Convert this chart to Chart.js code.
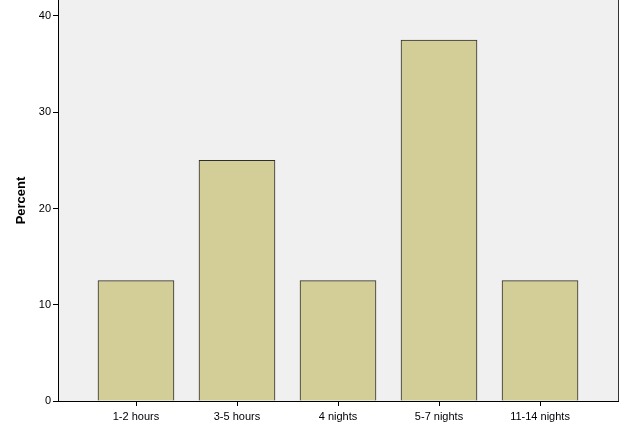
<!DOCTYPE html>
<html><head><meta charset="utf-8">
<script src="https://cdn.jsdelivr.net/npm/chart.js@4/dist/chart.umd.min.js"></script>
<style>html,body{margin:0;padding:0;background:#fff}#wrap{width:625px;height:427px}</style>
</head><body><div id="wrap"><canvas id="c" width="625" height="427"></canvas></div>
<script>
const categories = ['1-2 hours','3-5 hours','4 nights','5-7 nights','11-14 nights'];
const percentValues = [12.5, 25, 12.5, 37.5, 12.5];
const yTickValues = [0, 10, 20, 30, 40];

const plotBg = {
  id: 'plotBg',
  beforeDraw(chart) {
    const {ctx, chartArea: a} = chart;
    ctx.save();
    ctx.fillStyle = '#F0F0F0';
    ctx.fillRect(a.left, a.top, a.right - a.left, a.bottom - a.top);
    ctx.restore();
  },
  afterDraw(chart) {
    const {ctx, chartArea: a} = chart;
    const xs = chart.scales.x;
    ctx.save();
    ctx.strokeStyle = '#333';
    ctx.lineWidth = 1;
    ctx.beginPath();
    ctx.moveTo(a.right + 0.5, a.top);
    ctx.lineTo(a.right + 0.5, a.bottom);
    ctx.stroke();
    ctx.strokeStyle = '#000';
    ctx.beginPath();
    xs.ticks.forEach(t => {
      const px = Math.round(xs.getPixelForValue(t.value)) + 0.5;
      ctx.moveTo(px, a.bottom);
      ctx.lineTo(px, a.bottom + 5);
    });
    ctx.stroke();
    ctx.restore();
  }
};

new Chart(document.getElementById('c'), {
  type: 'bar',
  data: {
    datasets: [{
      data: percentValues.map((v, i) => ({x: i, y: v})),
      backgroundColor: '#D3CE97',
      borderColor: '#2e2e2e',
      borderWidth: 1,
      barThickness: 76
    }]
  },
  options: {
    responsive: false,
    animation: false,
    layout: {padding: {left: 0, right: 7, top: 0, bottom: 0}},
    plugins: {legend: {display: false}, tooltip: {enabled: false}},
    scales: {
      x: {
        type: 'linear',
        min: -0.772, max: 4.772,
        offset: false,
        afterBuildTicks: s => { s.ticks = categories.map((c, i) => ({value: i})); },
        afterFit: s => { s.height = 26; s.paddingLeft = 0; s.paddingRight = 0; },
        ticks: {
          callback: v => categories[v],
          color: '#000',
          font: {family: 'Liberation Sans', size: 11},
          padding: 1,
          maxRotation: 0, autoSkip: false
        },
        grid: {display: false},
        border: {display: true, color: '#000', width: 1}
      },
      y: {
        min: 0, max: 41.66,
        afterBuildTicks: s => { s.ticks = yTickValues.map(v => ({value: v})); },
        afterFit: s => { s.width = 58; s.paddingTop = 0; s.paddingBottom = 0; },
        ticks: {
          color: '#000',
          font: {family: 'Liberation Sans', size: 11},
          padding: 2
        },
        grid: {drawOnChartArea: false, tickLength: 5, color: '#000'},
        border: {color: '#000', width: 1},
        title: {
          display: true, text: 'Percent', color: '#000',
          font: {family: 'Liberation Sans', size: 13, weight: 'bold'},
          padding: {top: 14, bottom: 0}
        }
      }
    }
  },
  plugins: [plotBg]
});
</script></body></html>
